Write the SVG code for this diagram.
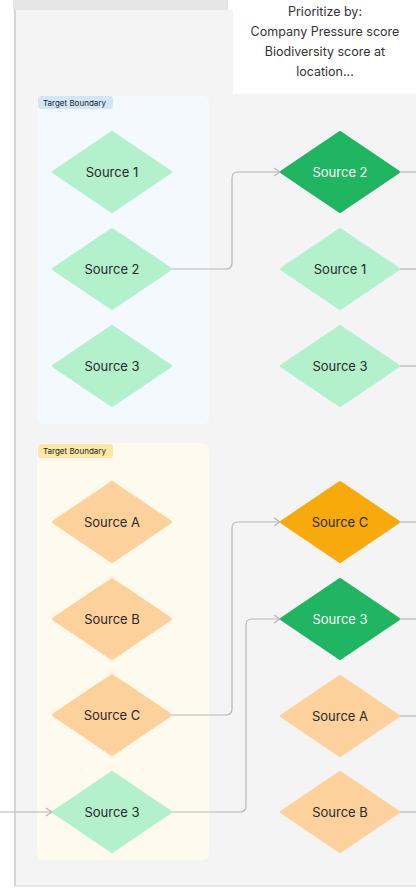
<svg xmlns="http://www.w3.org/2000/svg" width="416" height="890" viewBox="0 0 416 890">
<defs>
<style>
.lbl{font-family:Inter,"Liberation Sans",sans-serif;font-size:13px;text-anchor:middle;dominant-baseline:central}
.dark{fill:#2a2a2a}
.light{fill:#ffffff}
.lg{fill:#b3f0cc;stroke:#b3f0cc}
.lo{fill:#fcd19c;stroke:#fcd19c}
.dg{fill:#1fb561;stroke:#1fb561}
.og{fill:#f8a90c;stroke:#f8a90c}
.conn{fill:none;stroke:#b5b5b5;stroke-width:1.2}
.tag{font-family:Inter,"Liberation Sans",sans-serif;font-size:8px;fill:#222;dominant-baseline:central}
.note{font-family:Inter,"Liberation Sans",sans-serif;font-size:12.5px;fill:#333;text-anchor:middle}
</style>
<marker id="arr" markerWidth="10" markerHeight="10" refX="8" refY="5" orient="auto" markerUnits="userSpaceOnUse">
<path d="M2,1 L8,5 L2,9" fill="none" stroke="#b5b5b5" stroke-width="1.2"/>
</marker>
<path id="dia" d="M0,-39.5 L58.5,0 L0,39.5 L-58.5,0 Z" stroke-width="3" stroke-linejoin="round"/>
</defs>
<rect width="416" height="890" fill="#ffffff"/>
<rect x="14" y="10" width="410" height="876" rx="3" fill="#f4f4f4"/>
<rect x="14" y="10" width="2" height="876" fill="#d6d6d6"/>
<rect x="14" y="885" width="410" height="1.5" fill="#e2e2e2"/>
<rect x="13" y="0" width="215" height="10" fill="#e6e6e6"/>
<g id="note">
<rect x="233" y="0" width="183" height="94" fill="#ffffff"/>
<text class="note" x="325" y="16">Prioritize by:</text>
<text class="note" x="325" y="36">Company Pressure score</text>
<text class="note" x="325" y="56">Biodiversity score at</text>
<text class="note" x="325" y="76">location...</text>
</g>
<g id="boundary-top">
<rect x="37" y="96" width="172" height="328" rx="6" fill="#f4f9ff"/>
<rect x="38" y="96" width="75" height="13" rx="3" fill="#cfe6fb"/>
<text class="tag" x="43" y="102.5">Target Boundary</text>
</g>
<g id="boundary-bottom">
<rect x="37" y="443" width="172" height="417" rx="6" fill="#fffaee"/>
<rect x="38" y="444" width="75" height="14" rx="3" fill="#fbe7a6"/>
<text class="tag" x="43" y="451">Target Boundary</text>
</g>
<g id="connectors">
<path class="conn" d="M172,269 H226 Q232,269 232,263 V178 Q232,172 238,172 H280" marker-end="url(#arr)"/>
<path class="conn" d="M172,715 H226 Q232,715 232,709 V528 Q232,522 238,522 H280" marker-end="url(#arr)"/>
<path class="conn" d="M172,812 H240 Q246,812 246,806 V625 Q246,619 252,619 H280" marker-end="url(#arr)"/>
<path class="conn" d="M0,812 H52" marker-end="url(#arr)"/>
<path class="conn" d="M400,172 H416"/>
<path class="conn" d="M400,269 H416"/>
<path class="conn" d="M400,366 H416"/>
<path class="conn" d="M400,522 H416"/>
<path class="conn" d="M400,619 H416"/>
<path class="conn" d="M400,716 H416"/>
<path class="conn" d="M400,812 H416"/>
</g>
<g id="l-source1"><use href="#dia" x="112" y="172" class="lg"/><text class="lbl dark" x="112" y="172">Source 1</text></g>
<g id="l-source2"><use href="#dia" x="112" y="269" class="lg"/><text class="lbl dark" x="112" y="269">Source 2</text></g>
<g id="l-source3"><use href="#dia" x="112" y="366" class="lg"/><text class="lbl dark" x="112" y="366">Source 3</text></g>
<g id="l-sourceA"><use href="#dia" x="112" y="522" class="lo"/><text class="lbl dark" x="112" y="522">Source A</text></g>
<g id="l-sourceB"><use href="#dia" x="112" y="619" class="lo"/><text class="lbl dark" x="112" y="619">Source B</text></g>
<g id="l-sourceC"><use href="#dia" x="112" y="715" class="lo"/><text class="lbl dark" x="112" y="715">Source C</text></g>
<g id="l-source3b"><use href="#dia" x="112" y="812" class="lg"/><text class="lbl dark" x="112" y="812">Source 3</text></g>
<g id="r-source2"><use href="#dia" x="340" y="172" class="dg"/><text class="lbl light" x="340" y="172">Source 2</text></g>
<g id="r-source1"><use href="#dia" x="340" y="269" class="lg"/><text class="lbl dark" x="340" y="269">Source 1</text></g>
<g id="r-source3"><use href="#dia" x="340" y="366" class="lg"/><text class="lbl dark" x="340" y="366">Source 3</text></g>
<g id="r-sourceC"><use href="#dia" x="340" y="522" class="og"/><text class="lbl dark" x="340" y="522">Source C</text></g>
<g id="r-source3b"><use href="#dia" x="340" y="619" class="dg"/><text class="lbl light" x="340" y="619">Source 3</text></g>
<g id="r-sourceA"><use href="#dia" x="340" y="716" class="lo"/><text class="lbl dark" x="340" y="716">Source A</text></g>
<g id="r-sourceB"><use href="#dia" x="340" y="812" class="lo"/><text class="lbl dark" x="340" y="812">Source B</text></g>
</svg>
